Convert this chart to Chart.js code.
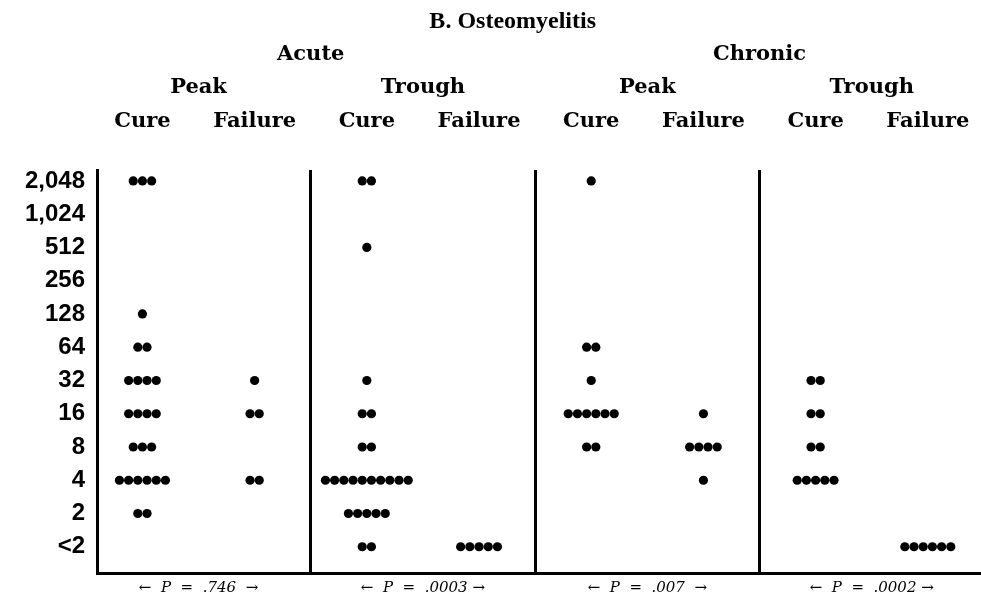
<!DOCTYPE html>
<html>
<head>
<meta charset="utf-8">
<script src="https://cdn.jsdelivr.net/npm/chart.js@4/dist/chart.umd.min.js"></script>
<style>
  html, body { margin:0; padding:0; background:#fff; }
  canvas { display:block; }
</style>
</head>
<body>
<canvas id="dots" width="981" height="600"></canvas>
<script>
// MIC levels, bottom to top
const levels = ['<2','2','4','8','16','32','64','128','256','512','1,024','2,048'];

// patient counts per level (index matches levels)
const acutePeakCure       = [0,2,6,3,4,4,2,1,0,0,0,3];
const acutePeakFailure    = [0,0,2,0,2,1,0,0,0,0,0,0];
const acuteTroughCure     = [2,5,10,2,2,1,0,0,0,1,0,2];
const acuteTroughFailure  = [5,0,0,0,0,0,0,0,0,0,0,0];
const chronicPeakCure     = [0,0,0,2,6,1,2,0,0,0,0,1];
const chronicPeakFailure  = [0,0,1,4,1,0,0,0,0,0,0,0];
const chronicTroughCure   = [0,0,5,2,2,2,0,0,0,0,0,0];
const chronicTroughFailure= [6,0,0,0,0,0,0,0,0,0,0,0];

const columns = [acutePeakCure, acutePeakFailure, acuteTroughCure, acuteTroughFailure,
                 chronicPeakCure, chronicPeakFailure, chronicTroughCure, chronicTroughFailure];

const outcomeLabels = ['Cure','Failure','Cure','Failure','Cure','Failure','Cure','Failure'];
const timingLabels  = ['Peak','Trough','Peak','Trough'];
const groupLabels   = ['Acute','Chronic'];
const pLabels       = ['\u2190  P  =  .746  \u2192','\u2190  P  =  .0003 \u2192','\u2190  P  =  .007  \u2192','\u2190  P  =  .0002 \u2192'];
const title = 'B. Osteomyelitis';

const X_MIN = -0.405, X_MAX = 7.474;
const DOT_GAP = 0.082;   // horizontal step between stacked dots, in column units

// spread n dots of one level side by side around the column centre
function dotsFor(counts, col){
  const pts = [];
  counts.forEach((n, lvl)=>{
    for (let k=0; k<n; k++) pts.push({ x: col + (k - (n-1)/2) * DOT_GAP, y: lvl });
  });
  return pts;
}

function fixedTicks(values){
  return s => { s.ticks = values.map(v=>({ value:v })); };
}

// fixed box size, and no extra side padding for overhanging labels
function fixedSize(h){
  return s => { s.height = h; s.paddingLeft = 0; s.paddingRight = 0; };
}

// a label-only axis used for the header rows
function headerAxis(values, labels, font, weight, height, padding){
  return {
    type:'linear', position:'top', min:X_MIN, max:X_MAX, weight,
    afterBuildTicks: fixedTicks(values),
    afterFit: fixedSize(height),
    grid:{ display:false, drawTicks:false },
    border:{ display:false },
    ticks:{ autoSkip:false, maxRotation:0, padding, color:'#000', font,
            callback:(v,i)=>labels[i] }
  };
}

const serifHead = { family:'"DejaVu Serif", serif', size:21, weight:'bold' };

new Chart(document.getElementById('dots'), {
  type:'scatter',
  data:{
    datasets: columns.map((c,i)=>({
      data: dotsFor(c, i),
      backgroundColor:'#000',
      borderWidth:0,
      pointRadius:4.6,
      pointHoverRadius:4.6,
    }))
  },
  options:{
    responsive:false,
    animation:false,
    events:[],
    layout:{ autoPadding:false, padding:{ left:10, right:0, top:0, bottom:0 } },
    plugins:{ legend:{ display:false }, tooltip:{ enabled:false } },
    scales:{
      x:{
        type:'linear', position:'bottom', min:X_MIN, max:X_MAX, weight:2,
        afterBuildTicks: fixedTicks([0.5,2.5,4.5,6.5]),
        afterFit: fixedSize(24),
        grid:{ display:false, drawTicks:false },
        border:{ display:true, width:3, color:'#000' },
        ticks:{ autoSkip:false, maxRotation:0, padding:6, color:'#000',
                font:{ family:'"DejaVu Serif", serif', size:15, style:'italic' },
                callback:(v,i)=>pLabels[i] }
      },
      // separators between the four panels
      xSep:{
        type:'linear', position:'bottom', min:X_MIN, max:X_MAX, weight:1,
        afterBuildTicks: fixedTicks([1.5,3.5,5.5]),
        afterFit: fixedSize(0),
        grid:{ display:true, drawTicks:false, color:'#000', lineWidth:3 },
        border:{ display:false },
        ticks:{ display:false }
      },
      xTitle: headerAxis([3.3], [title], { family:'"Liberation Serif", serif', size:24, weight:'bold' }, 4, 36, 0),
      xGroup: headerAxis([1.5,5.5], groupLabels, serifHead, 3, 31, 0),
      xTiming: headerAxis([0.5,2.5,4.5,6.5], timingLabels, serifHead, 2, 33, 0),
      xOutcome: headerAxis([0,1,2,3,4,5,6,7], outcomeLabels, serifHead, 1, 70, 36),
      y:{
        type:'linear', position:'left', min:-0.807, max:11.329,
        afterBuildTicks: fixedTicks(levels.map((_,i)=>i)),
        afterFit: s => { s.width = 87; },
        grid:{ display:false, drawTicks:false },
        border:{ display:true, width:3, color:'#000' },
        ticks:{ autoSkip:false, padding:12, color:'#000',
                font:{ family:'"Liberation Sans", Arial, sans-serif', size:24, weight:'bold' },
                callback:(v,i)=>levels[i] }
      }
    }
  }
});
</script>
</body>
</html>
